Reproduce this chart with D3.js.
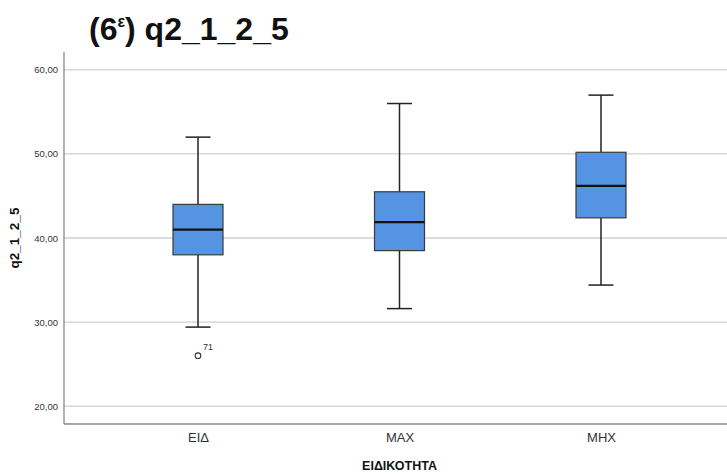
<!DOCTYPE html>
<html>
<head>
<meta charset="utf-8">
<script src="https://cdn.jsdelivr.net/npm/d3@7"></script>
<style>
  body { margin: 0; background: #fff; }
  svg { display: block; font-family: Arial, "Liberation Sans", sans-serif; }
</style>
</head>
<body>
<svg id="chart" width="727" height="476"></svg>
<script>
// groups and five-number summaries
var categories = ["ΕΙΔ", "MAX", "MHX"];
var whiskerLow  = [29.4, 31.6, 34.4];
var q1          = [38.0, 38.5, 42.4];
var medians     = [41.0, 41.9, 46.2];
var q3          = [44.0, 45.5, 50.2];
var whiskerHigh = [52.0, 56.0, 57.0];
var outliers = [{cat: "ΕΙΔ", value: 26.0, label: "71"}];
var yTicks = [20, 30, 40, 50, 60];

var svg = d3.select("#chart");

var plotLeft = 64, plotRight = 735, plotTop = 52, plotBottom = 424;

var x = d3.scalePoint().domain(categories).range([plotLeft, plotRight]).padding(0.665);
var y = d3.scaleLinear().domain([17.87, 62.13]).range([plotBottom, plotTop]);

var fmt = function(d) { return d3.format(".2f")(d).replace(".", ","); };

// gridlines
svg.append("g")
    .selectAll("line")
    .data(yTicks)
    .enter().append("line")
    .attr("x1", plotLeft).attr("x2", 727)
    .attr("y1", function(d) { return y(d); })
    .attr("y2", function(d) { return y(d); })
    .attr("stroke", "#d0d0d0")
    .attr("stroke-width", 1.3);

// y axis
var yAxis = svg.append("g")
    .attr("transform", "translate(" + plotLeft + ",0)")
    .call(d3.axisLeft(y).tickValues(yTicks).tickFormat(fmt).tickSize(0).tickPadding(6));
yAxis.select(".domain").remove();
yAxis.selectAll("text").attr("font-size", 9.5).attr("fill", "#333").style("font-family", "Arial, sans-serif");

// axis frame
svg.append("line")
    .attr("x1", plotLeft).attr("x2", plotLeft).attr("y1", plotTop).attr("y2", plotBottom)
    .attr("stroke", "#888").attr("stroke-width", 1.3);
svg.append("line")
    .attr("x1", plotLeft).attr("x2", 727).attr("y1", plotBottom).attr("y2", plotBottom)
    .attr("stroke", "#888").attr("stroke-width", 1.3);

// x axis labels
var xAxis = svg.append("g")
    .attr("transform", "translate(0," + plotBottom + ")")
    .call(d3.axisBottom(x).tickSize(0).tickPadding(9));
xAxis.select(".domain").remove();
xAxis.selectAll("text").attr("font-size", 13).attr("fill", "#333").style("font-family", "Arial, sans-serif");

var boxW = 50, capW = 25;

var data = categories.map(function(c, i) {
    return {cat: c, lo: whiskerLow[i], q1: q1[i], med: medians[i], q3: q3[i], hi: whiskerHigh[i]};
});

var g = svg.selectAll(".box")
    .data(data)
    .enter().append("g")
    .attr("class", "box")
    .attr("transform", function(d) { return "translate(" + x(d.cat) + ",0)"; });

// whiskers
g.append("line")
    .attr("y1", function(d) { return y(d.hi); })
    .attr("y2", function(d) { return y(d.q3); })
    .attr("stroke", "#222").attr("stroke-width", 1.5);
g.append("line")
    .attr("y1", function(d) { return y(d.q1); })
    .attr("y2", function(d) { return y(d.lo); })
    .attr("stroke", "#222").attr("stroke-width", 1.5);
g.append("line")
    .attr("x1", -capW / 2).attr("x2", capW / 2)
    .attr("y1", function(d) { return y(d.hi); })
    .attr("y2", function(d) { return y(d.hi); })
    .attr("stroke", "#222").attr("stroke-width", 1.5);
g.append("line")
    .attr("x1", -capW / 2).attr("x2", capW / 2)
    .attr("y1", function(d) { return y(d.lo); })
    .attr("y2", function(d) { return y(d.lo); })
    .attr("stroke", "#222").attr("stroke-width", 1.5);

// boxes
g.append("rect")
    .attr("x", -boxW / 2).attr("width", boxW)
    .attr("y", function(d) { return y(d.q3); })
    .attr("height", function(d) { return y(d.q1) - y(d.q3); })
    .attr("fill", "#5494e2")
    .attr("stroke", "#3a3a3a").attr("stroke-width", 1.2);

// medians
g.append("line")
    .attr("x1", -boxW / 2).attr("x2", boxW / 2)
    .attr("y1", function(d) { return y(d.med); })
    .attr("y2", function(d) { return y(d.med); })
    .attr("stroke", "#111").attr("stroke-width", 2.2);

// outliers
var o = svg.selectAll(".outlier")
    .data(outliers)
    .enter().append("g")
    .attr("class", "outlier");
o.append("circle")
    .attr("cx", function(d) { return x(d.cat); })
    .attr("cy", function(d) { return y(d.value); })
    .attr("r", 2.8)
    .attr("fill", "none").attr("stroke", "#333").attr("stroke-width", 1.1);
o.append("text")
    .attr("x", function(d) { return x(d.cat) + 5; })
    .attr("y", function(d) { return y(d.value) - 6; })
    .attr("font-size", 9).attr("fill", "#333")
    .text(function(d) { return d.label; });

// titles
var title = svg.append("text")
    .attr("x", 89).attr("y", 40)
    .attr("font-size", 32).attr("font-weight", "bold").attr("fill", "#111");
title.append("tspan").text("(6");
title.append("tspan").attr("font-size", 16).attr("dy", -13).text("ε");
title.append("tspan").attr("dy", 13).text(") q2_1_2_5");

svg.append("text")
    .attr("transform", "translate(19," + ((plotTop + plotBottom) / 2) + ") rotate(-90)")
    .attr("text-anchor", "middle")
    .attr("font-size", 13.5).attr("font-weight", "bold").attr("fill", "#111")
    .text("q2_1_2_5");

svg.append("text")
    .attr("x", (plotLeft + plotRight) / 2).attr("y", 470)
    .attr("text-anchor", "middle")
    .attr("font-size", 12.5).attr("font-weight", "bold").attr("fill", "#111")
    .text("ΕΙΔΙΚΟΤΗΤΑ");
</script>
</body>
</html>
